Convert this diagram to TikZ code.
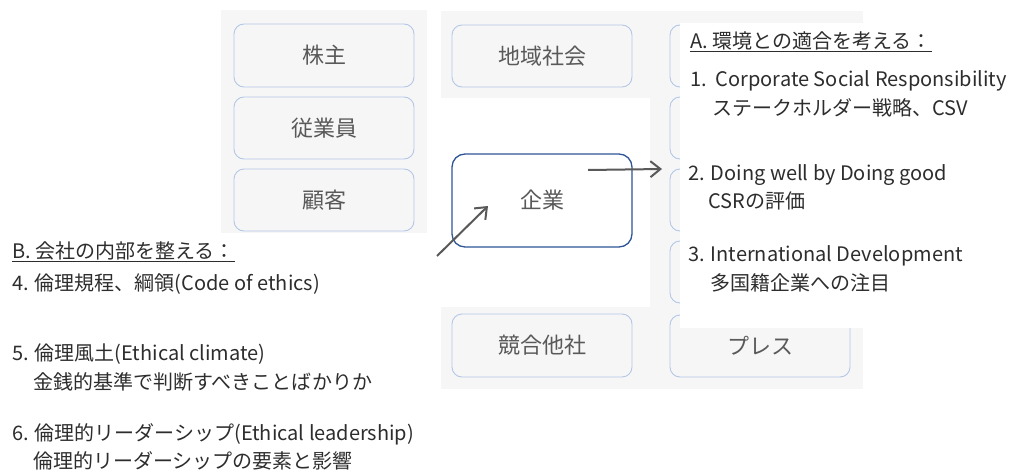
\documentclass[tikz,border=0pt]{standalone}
\usepackage{fontspec}
\setmainfont{Noto Sans CJK JP}
\usetikzlibrary{arrows.meta}
\definecolor{panel}{RGB}{246,246,246}
\definecolor{boxline}{RGB}{180,199,231}
\definecolor{corpline}{RGB}{47,85,151}
\definecolor{lbl}{RGB}{89,89,89}
\definecolor{txt}{RGB}{45,45,45}
\definecolor{arr}{RGB}{89,89,89}
\begin{document}
\begin{tikzpicture}[x=1pt,y=-1pt,
  sbox/.style={draw=boxline,line width=0.9pt,rounded corners=10pt,fill=panel,text=lbl,
    inner sep=0pt,minimum width=180pt,font=\fontsize{22}{26}\selectfont},
  corp/.style={draw=corpline,line width=1.3pt,rounded corners=13pt,fill=white,text=lbl,
    inner sep=0pt,minimum width=180pt,minimum height=93pt,font=\fontsize{22}{26}\selectfont},
  ltxt/.style={anchor=base west,inner sep=0pt,text=txt,font=\fontsize{20}{24}\selectfont},
  uline/.style={draw=txt,line width=1pt},
  conn/.style={draw=arr,line width=2pt,-{Straight Barb[length=10pt,width=16pt]}}
]
\useasboundingbox (0,0) rectangle (1014,471);
% background panels
\fill[panel] (221,10) rectangle (427,233);
\fill[panel] (441,11) rectangle (863,98);
\fill[panel] (650,97) rectangle (863,307);
\fill[panel] (441,307) rectangle (863,389);
% stakeholder boxes
\node[sbox,minimum height=63pt] (kabu) at (324,55.5) {株主};
\node[sbox,minimum height=62pt] (jugyo) at (324,128) {従業員};
\node[sbox,minimum height=62pt] (kokyaku) at (324,200) {顧客};
\node[sbox,minimum height=62pt] (chiiki) at (542,56) {地域社会};
\node[sbox,minimum height=62pt] (tr) at (760,56) {};
\node[sbox,minimum height=62pt] (rA) at (760,128) {};
\node[sbox,minimum height=62pt] (rB) at (760,200) {};
\node[sbox,minimum height=62pt] (rC) at (760,272) {};
\node[sbox,minimum height=63pt] (kyogo) at (542,345.5) {競合他社};
\node[sbox,minimum height=62pt] (press) at (760,346) {プレス};
% white text panel
\node[fill=white,draw=none,inner sep=0pt,minimum width=334pt,minimum height=305pt,anchor=north west] (abox) at (680,23) {};
% company
\node[corp] (kigyo) at (542,200.5) {企業};
% arrows
\coordinate (a1s) at (437,256);
\coordinate (a1e) at (488,206);
\coordinate (a2s) at (588,170);
\coordinate (a2e) at (662,169);
\draw[conn] (a1s) -- (a1e);
\draw[conn] (a2s) -- (a2e);
% left list
\node[ltxt] (hB) at (12,258) {B. 会社の内部を整える：};
\draw[uline] ([yshift=-3.5pt]hB.base west) -- ([yshift=-3.5pt]hB.base east);
\node[ltxt] (l4) at (12,290) {4. 倫理規程、綱領(Code of ethics)};
\node[ltxt] (l5) at (12,360) {5. 倫理風土(Ethical climate)};
\node[ltxt] (l5b) at (33,389) {金銭的基準で判断すべきことばかりか};
\node[ltxt] (l6) at (12,440) {6. 倫理的リーダーシップ(Ethical leadership)};
\node[ltxt] (l6b) at (33,468) {倫理的リーダーシップの要素と影響};
% right list
\node[ltxt] (hA) at (690,48) {A. 環境との適合を考える：};
\draw[uline] ([yshift=-3.5pt]hA.base west) -- ([yshift=-3.5pt]hA.base east);
\node[ltxt] (r1) at (690,86) {1.\ \ Corporate Social Responsibility};
\node[ltxt] (r1b) at (712,115) {ステークホルダー戦略、CSV};
\node[ltxt] (r2) at (688,180) {2. Doing well by Doing good};
\node[ltxt] (r2b) at (708,208) {CSRの評価};
\node[ltxt] (r3) at (688,261) {3. International Development};
\node[ltxt] (r3b) at (710,290) {多国籍企業への注目};
\end{tikzpicture}
\end{document}
